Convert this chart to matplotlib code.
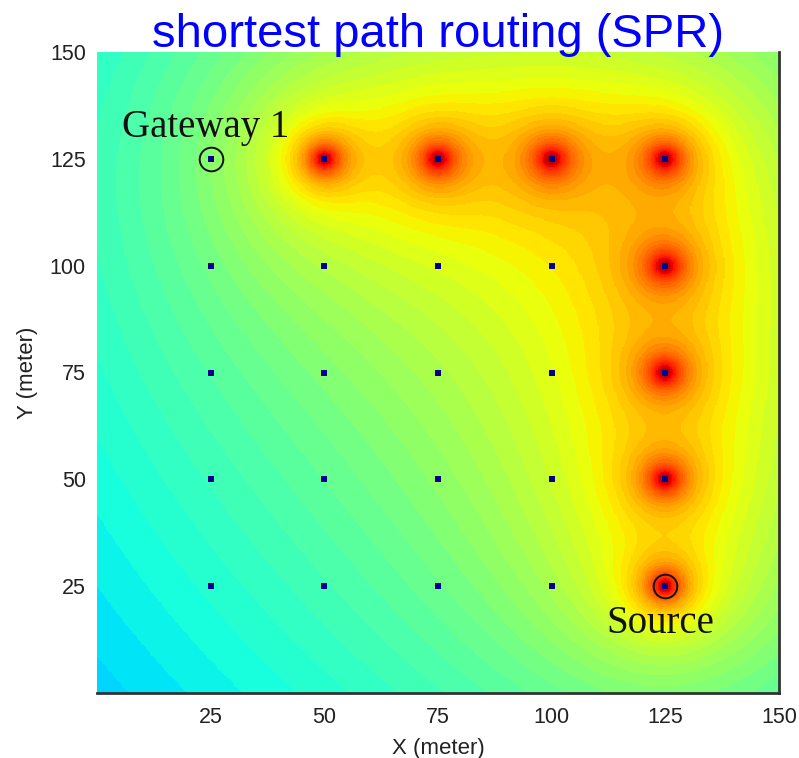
import numpy as np
import matplotlib
matplotlib.use('Agg')
import matplotlib.pyplot as plt
from matplotlib.colors import ListedColormap

# ---- data ----
grid_x = [25, 50, 75, 100, 125]
grid_y = [25, 50, 75, 100, 125]
path_x = [50, 75, 100, 125, 125, 125, 125, 125]
path_y = [125, 125, 125, 125, 100, 75, 50, 25]
gateway = (25, 125)
source = (125, 25)
tick_vals = [25, 50, 75, 100, 125, 150]
title = 'shortest path routing (SPR)'
field_range = (-18.8, -0.42)   # dB colour range
path_loss_exp = 1.0
soft = 2.5

# ---- field (sum of d^-alpha from active path nodes, in dB) ----
xs = np.linspace(0, 150, 601)
X, Y = np.meshgrid(xs, xs)
P = np.zeros_like(X)
for px, py in zip(path_x, path_y):
    d2 = (X - px) ** 2 + (Y - py) ** 2
    P += 1.0 / (d2 + soft) ** (path_loss_exp / 2)
F = 10 * np.log10(P)

narrow = ['Liberation Sans Narrow', 'Liberation Sans', 'DejaVu Sans']

fig = plt.figure(figsize=(7.99, 7.58), dpi=100)
ax = fig.add_axes([97 / 799, 65 / 758, 682 / 799, 641 / 758])
cmap = ListedColormap(plt.get_cmap('jet')(np.linspace(0, 1, 64)))
ax.imshow(F, origin='lower', extent=(0, 150, 0, 150), cmap=cmap,
          vmin=field_range[0], vmax=field_range[1], interpolation='nearest',
          aspect='auto')

GX, GY = np.meshgrid(grid_x, grid_y)
ax.plot(GX.ravel(), GY.ravel(), 's', color='#00008c', ms=4.5, mew=0)
for pt in (gateway, source):
    ax.plot(pt[0], pt[1], 'o', mfc='none', mec='#111111', ms=17, mew=1.4)

ax.text(5.5, 130.1, 'Gateway 1', family=['Liberation Serif', 'DejaVu Serif'],
        fontsize=28, color='#111111', ha='left', va='baseline')
ax.text(124.0, 14.0, 'Source', family=['Liberation Serif', 'DejaVu Serif'],
        fontsize=28, color='#111111', ha='center', va='baseline')

ax.set_xlim(0, 150)
ax.set_ylim(0, 150)
ax.set_xticks(tick_vals)
ax.set_yticks(tick_vals)
ax.tick_params(length=0, labelsize=15.5, colors='#222222')
ax.tick_params(axis='x', pad=10)
ax.tick_params(axis='y', pad=8)
for lab in ax.get_xticklabels() + ax.get_yticklabels():
    lab.set_family(narrow)
ax.set_xlabel('X (meter)', family=narrow, fontsize=16, color='#222222', labelpad=7)
ax.set_ylabel('Y (meter)', family=narrow, fontsize=16, color='#222222', labelpad=8.5)

for s in ('left', 'top'):
    ax.spines[s].set_visible(False)
for s in ('bottom', 'right'):
    ax.spines[s].set_color('#333333')
    ax.spines[s].set_linewidth(2)

ax.text(0.5, 1 + 5 / 641, title, transform=ax.transAxes, ha='center',
        va='baseline', fontsize=34, color='#0000ff',
        family=['Liberation Sans', 'DejaVu Sans'])

fig.savefig('out.png', dpi=100)
